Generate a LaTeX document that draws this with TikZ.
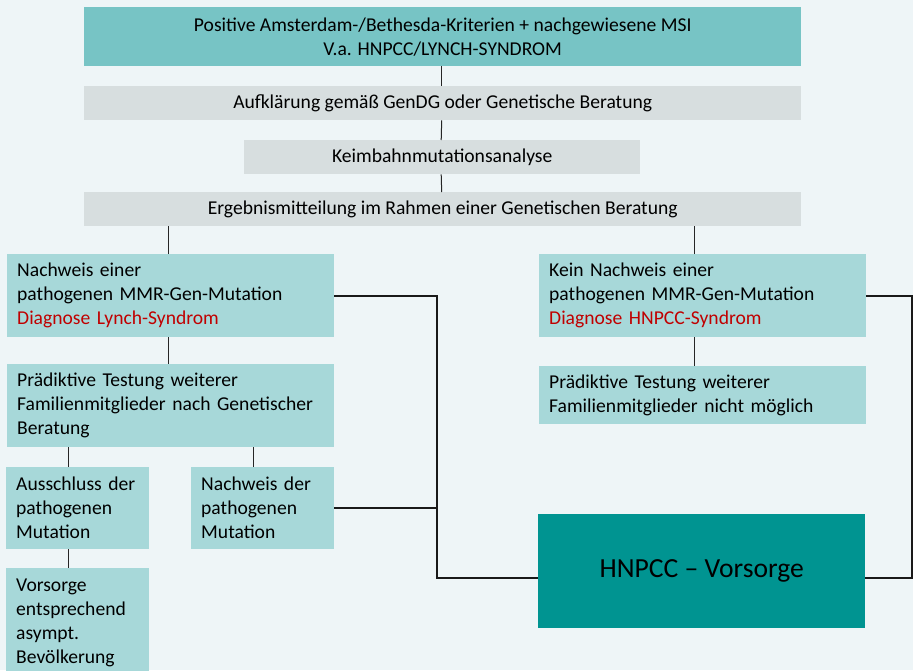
\documentclass[tikz,border=0pt]{standalone}
\usepackage{fontspec}
\setmainfont{Carlito}
\usepackage{tikz}

\definecolor{hintergrund}{HTML}{EEF5F7}
\definecolor{kopfgruen}{HTML}{77C4C5}
\definecolor{hellgrau}{HTML}{D7DEDF}
\definecolor{hellgruen}{HTML}{A7D8D9}
\definecolor{dunkelgruen}{HTML}{009491}
\definecolor{diagnoserot}{HTML}{C00000}

\begin{document}
\begin{tikzpicture}[x=1pt, y=-1pt,
    kopfbox/.style={anchor=north west, fill=kopfgruen, minimum width=717pt, minimum height=59pt,
        inner sep=0pt, align=center, font=\fontsize{19.6}{24}\selectfont},
    graubox/.style={anchor=north west, fill=hellgrau, minimum height=34pt,
        inner sep=0pt, align=center, font=\fontsize{19.6}{24}\selectfont},
    gruenbox/.style={anchor=north west, fill=hellgruen, inner xsep=10pt, inner ysep=0pt,
        align=left, font=\fontsize{19.6}{24}\selectfont},
    vorsorgebox/.style={anchor=north west, fill=dunkelgruen, minimum width=327pt, minimum height=114pt,
        inner sep=0pt, font=\fontsize{27.6}{30}\selectfont},
    linie/.style={draw=black!85, line width=1pt},
    dicklinie/.style={draw=black!90, line width=2pt}]
    \fill[hintergrund] (0,0) rectangle (913,670);
    \useasboundingbox (0,0) rectangle (913,670);
    % Kopf
    \node[kopfbox] (kriterien) at (84,7)
        {Positive Amsterdam-/Bethesda-Kriterien + nachgewiesene MSI\\V.a. HNPCC/LYNCH-SYNDROM};
    % Beratung und Analyse
    \foreach \name/\x/\y/\w/\txt in {aufklaerung/84/86/717/Aufklärung gemäß GenDG oder Genetische Beratung,
        keimbahn/244/140/396/Keimbahnmutationsanalyse,
        ergebnis/84/192/717/Ergebnismitteilung im Rahmen einer Genetischen Beratung} {
        \node[graubox, minimum width=\w pt] (\name) at (\x,\y) {\txt};
    }
    % Ergebnisse
    \node[gruenbox, text width=307pt, minimum height=83pt] (lynch) at (7,254)
        {Nachweis einer\\pathogenen MMR-Gen-Mutation\\\textcolor{diagnoserot}{Diagnose Lynch-Syndrom}};
    \node[gruenbox, text width=307pt, minimum height=83pt] (keinnachweis) at (539,254)
        {Kein Nachweis einer\\pathogenen MMR-Gen-Mutation\\\textcolor{diagnoserot}{Diagnose HNPCC-Syndrom}};
    % Praediktive Testung
    \node[gruenbox, text width=307pt, minimum height=83pt] (testungL) at (7,364)
        {Prädiktive Testung weiterer\\Familienmitglieder nach Genetischer\\Beratung};
    \node[gruenbox, text width=307pt, minimum height=58pt] (testungR) at (539,366)
        {Prädiktive Testung weiterer\\Familienmitglieder nicht möglich};
    % Familienmitglieder
    \node[gruenbox, text width=123pt, minimum height=82pt] (ausschluss) at (6,467)
        {Ausschluss der\\pathogenen\\Mutation};
    \node[gruenbox, text width=123pt, minimum height=82pt] (nachweisder) at (191,467)
        {Nachweis der\\pathogenen\\Mutation};
    \node[gruenbox, text width=123pt, minimum height=110pt] (bevoelkerung) at (6,568)
        {Vorsorge\\entsprechend\\asympt.\\Bevölkerung};
    % Vorsorge
    \node[vorsorgebox] (hnpcc) at (538,514) {HNPCC -- Vorsorge};
    % Linien
    \foreach \a/\b in {kriterien/aufklaerung, aufklaerung/keimbahn, keimbahn/ergebnis} {
        \draw[linie] ([xshift=-1pt]\a.south) -- ([xshift=-1pt]\b.north);
    }
    \draw[linie] ([xshift=-2pt]lynch.north) -- ([xshift=-2pt]lynch.north |- ergebnis.south);
    \draw[linie] ([xshift=-8pt]keinnachweis.north) -- ([xshift=-8pt]keinnachweis.north |- ergebnis.south);
    \draw[linie] ([xshift=-2pt]lynch.south) -- ([xshift=-2pt]testungL.north);
    \draw[linie] ([xshift=-8pt]keinnachweis.south) -- ([xshift=-8pt]testungR.north);
    \draw[linie] ([xshift=-9pt]ausschluss.north) -- ([xshift=-9pt]ausschluss.north |- testungL.south);
    \draw[linie] ([xshift=-9pt]nachweisder.north) -- ([xshift=-9pt]nachweisder.north |- testungL.south);
    \draw[linie] ([xshift=-9pt]ausschluss.south) -- ([xshift=-9pt]bevoelkerung.north);
    % Linien zur Vorsorge
    \coordinate (knoten) at (437,296);
    \draw[dicklinie] (lynch.east) -- (lynch.east -| knoten) |- ([yshift=-7pt]hnpcc.west);
    \draw[dicklinie] (nachweisder.east) -- (nachweisder.east -| knoten);
    \draw[dicklinie] (keinnachweis.east) -- ++(46,0) |- ([yshift=-7pt]hnpcc.east);
\end{tikzpicture}
\end{document}
